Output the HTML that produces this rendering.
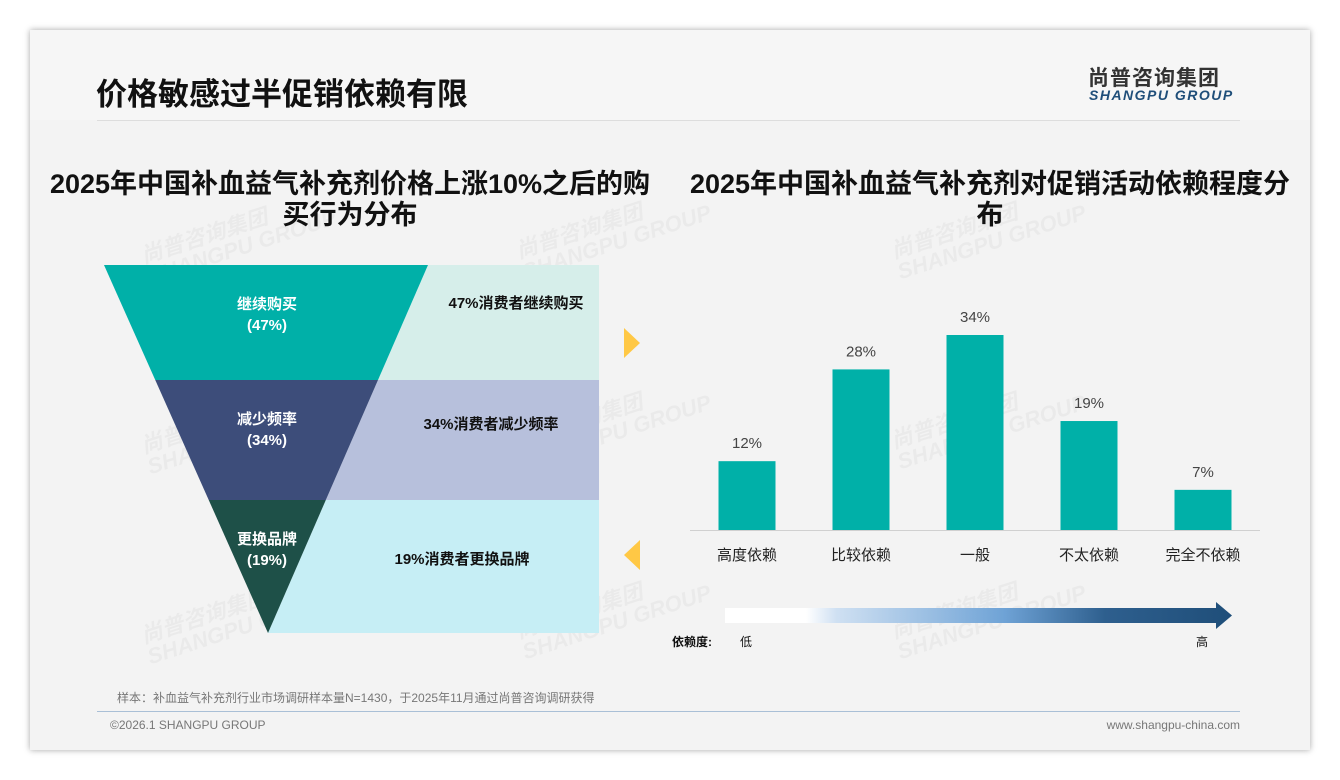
<!DOCTYPE html>
<html><head><meta charset="utf-8"><style>
body{margin:0;width:1340px;height:780px;background:#fff;font-family:"Liberation Sans","Noto Sans CJK SC",sans-serif;position:relative;overflow:hidden}
.card{position:absolute;left:30px;top:30px;width:1280px;height:720px;background:#f3f3f3;box-shadow:0 0 6px rgba(0,0,0,.35)}
.abs{position:absolute}
.wm{position:absolute;color:rgba(0,0,0,.035);font-weight:bold;transform:rotate(-18deg);font-size:22px;line-height:22px;font-style:italic}
</style></head><body>
<div class="card"></div>
<div class="abs" style="left:30px;top:30px;width:1280px;height:90px;background:#f6f6f6"></div>
<div class="abs" style="left:96px;top:75px;font-size:31px;font-weight:bold;color:#111;line-height:40px">价格敏感过半促销依赖有限</div>
<div class="abs" style="left:97px;top:120px;width:1143px;height:1px;background:#ddd"></div>
<div class="abs" style="left:1088px;top:62px;font-size:21px;font-weight:bold;color:#333;letter-spacing:1px">尚普咨询集团</div>
<div class="abs" style="left:1089px;top:87px;font-size:14px;font-weight:bold;font-style:italic;color:#1f4e79;letter-spacing:1.5px">SHANGPU GROUP</div>

<div class="wm" style="left:140px;top:215px">尚普咨询集团<br>SHANGPU GROUP</div>
<div class="wm" style="left:515px;top:210px">尚普咨询集团<br>SHANGPU GROUP</div>
<div class="wm" style="left:890px;top:210px">尚普咨询集团<br>SHANGPU GROUP</div>
<div class="wm" style="left:140px;top:405px">尚普咨询集团<br>SHANGPU GROUP</div>
<div class="wm" style="left:515px;top:400px">尚普咨询集团<br>SHANGPU GROUP</div>
<div class="wm" style="left:890px;top:400px">尚普咨询集团<br>SHANGPU GROUP</div>
<div class="wm" style="left:140px;top:595px">尚普咨询集团<br>SHANGPU GROUP</div>
<div class="wm" style="left:515px;top:590px">尚普咨询集团<br>SHANGPU GROUP</div>
<div class="wm" style="left:890px;top:590px">尚普咨询集团<br>SHANGPU GROUP</div>

<div class="abs" style="left:0px;top:169px;width:700px;text-align:center;font-size:27px;font-weight:bold;line-height:31px;color:#111;white-space:nowrap">2025年中国补血益气补充剂价格上涨10%之后的购<br>买行为分布</div>
<div class="abs" style="left:640px;top:169px;width:700px;text-align:center;font-size:27px;font-weight:bold;line-height:31px;color:#111;white-space:nowrap">2025年中国补血益气补充剂对促销活动依赖程度分<br>布</div>

<svg class="abs" style="left:0;top:0" width="1340" height="780">
<g id="funnel"></g>
<g id="bars"></g>
<polygon points="624,328 640,343 624,358" fill="#ffc845"/>
<polygon points="640,540 624,555 640,570" fill="#ffc845"/>
<defs><linearGradient id="gr" x1="0" x2="1"><stop offset="0" stop-color="#fff"/><stop offset="0.16" stop-color="#fff"/><stop offset="0.22" stop-color="#cfe0f2"/><stop offset="0.55" stop-color="#6fa3d6"/><stop offset="0.75" stop-color="#2e5f8e"/><stop offset="1" stop-color="#1f4e79"/></linearGradient></defs>
<polygon points="725,608 1216,608 1216,602 1232,615.5 1216,629 1216,623 725,623" fill="url(#gr)"/>
</svg>
<div class="abs" style="left:672px;top:633px;font-size:12px;font-weight:bold;color:#111">依赖度:</div>
<div class="abs" style="left:740px;top:633px;font-size:12px;color:#111">低</div>
<div class="abs" style="left:1196px;top:633px;font-size:12px;color:#111">高</div>

<div class="abs" style="left:117px;top:689px;font-size:12px;color:#777">样本：补血益气补充剂行业市场调研样本量N=1430，于2025年11月通过尚普咨询调研获得</div>
<div class="abs" style="left:97px;top:711px;width:1143px;height:1px;background:#a9bfd6"></div>
<div class="abs" style="left:110px;top:718px;font-size:12px;color:#777">©2026.1 SHANGPU GROUP</div>
<div class="abs" style="left:1040px;top:718px;width:200px;text-align:right;font-size:12px;color:#777">www.shangpu-china.com</div>

<script>
const funnelLabels=['继续购买','减少频率','更换品牌'];
const funnelValues=[47,34,19];
const funnelNotes=['47%消费者继续购买','34%消费者减少频率','19%消费者更换品牌'];
const barCats=['高度依赖','比较依赖','一般','不太依赖','完全不依赖'];
const barVals=[12,28,34,19,7];
const NS='http://www.w3.org/2000/svg';
function mk(t,a,p){const e=document.createElementNS(NS,t);for(const k in a)e.setAttribute(k,a[k]);p.appendChild(e);return e;}
const fg=document.getElementById('funnel');
const fTop=265,fBot=633,fL=104,fR=428,apex=268,bandR=599;
const fCols=['#00b0a8','#3d4d7a','#1e5048'],bCols=['#d6eeea','#b7c0dc','#c6eef5'];
const tierH=[115,120,133];
const noteX=[516,491,462],noteDy=[43,49,64];
const lx=y=>fL+(y-fTop)*(apex-fL)/(fBot-fTop);
const rx=y=>fR-(y-fTop)*(fR-apex)/(fBot-fTop);
let y=fTop;
funnelValues.forEach((v,i)=>{
 const h=tierH[i]; const y2=y+h;
 let p=mk('polygon',{points:`${rx(y)},${y} ${bandR},${y} ${bandR},${y2} ${rx(y2)},${y2}`,fill:bCols[i]},fg);
 
 
 const pts=i<2?`${lx(y)},${y} ${rx(y)},${y} ${rx(y2)},${y2} ${lx(y2)},${y2}`:`${lx(y)},${y} ${rx(y)},${y} ${apex},${fBot}`;
 p=mk('polygon',{points:pts,fill:fCols[i]},fg);
 
 
 const cy=y+50;
 let t=mk('text',{x:267,y:cy-6,'text-anchor':'middle','font-size':15,'font-weight':'bold',fill:'#fff'},fg);t.textContent=funnelLabels[i];
 
 
 t=mk('text',{x:267,y:cy+15,'text-anchor':'middle','font-size':15,'font-weight':'bold',fill:'#fff'},fg);t.textContent='('+v+'%)';
 
 
 t=mk('text',{x:noteX[i],y:y+noteDy[i],'text-anchor':'middle','font-size':15,'font-weight':'bold',fill:'#111'},fg);t.textContent=funnelNotes[i];
 
 
 y=y2;
});
const bg=document.getElementById('bars');
const x0=690,x1=1260,base=530,scale=195/34,bw=57;
const band=(x1-x0)/barCats.length;
const xc=i=>x0+band*(i+0.5);
const yv=v=>base-v*scale;
let ax=mk('line',{x1:x0,x2:x1,y1:base+0.5,y2:base+0.5,stroke:'#d0d0d0'},bg);


barVals.forEach((v,i)=>{
 const r=mk('rect',{x:xc(i)-bw/2,y:yv(v),width:bw,height:base-yv(v),fill:'#00b0a8'},bg);
 
 
 let t=mk('text',{x:xc(i),y:yv(v)-13,'text-anchor':'middle','font-size':15,fill:'#444'},bg);t.textContent=v+'%';
 
 
 t=mk('text',{x:xc(i),y:base+30,'text-anchor':'middle','font-size':15,fill:'#222'},bg);t.textContent=barCats[i];
 
 
});
</script>
</body></html>
